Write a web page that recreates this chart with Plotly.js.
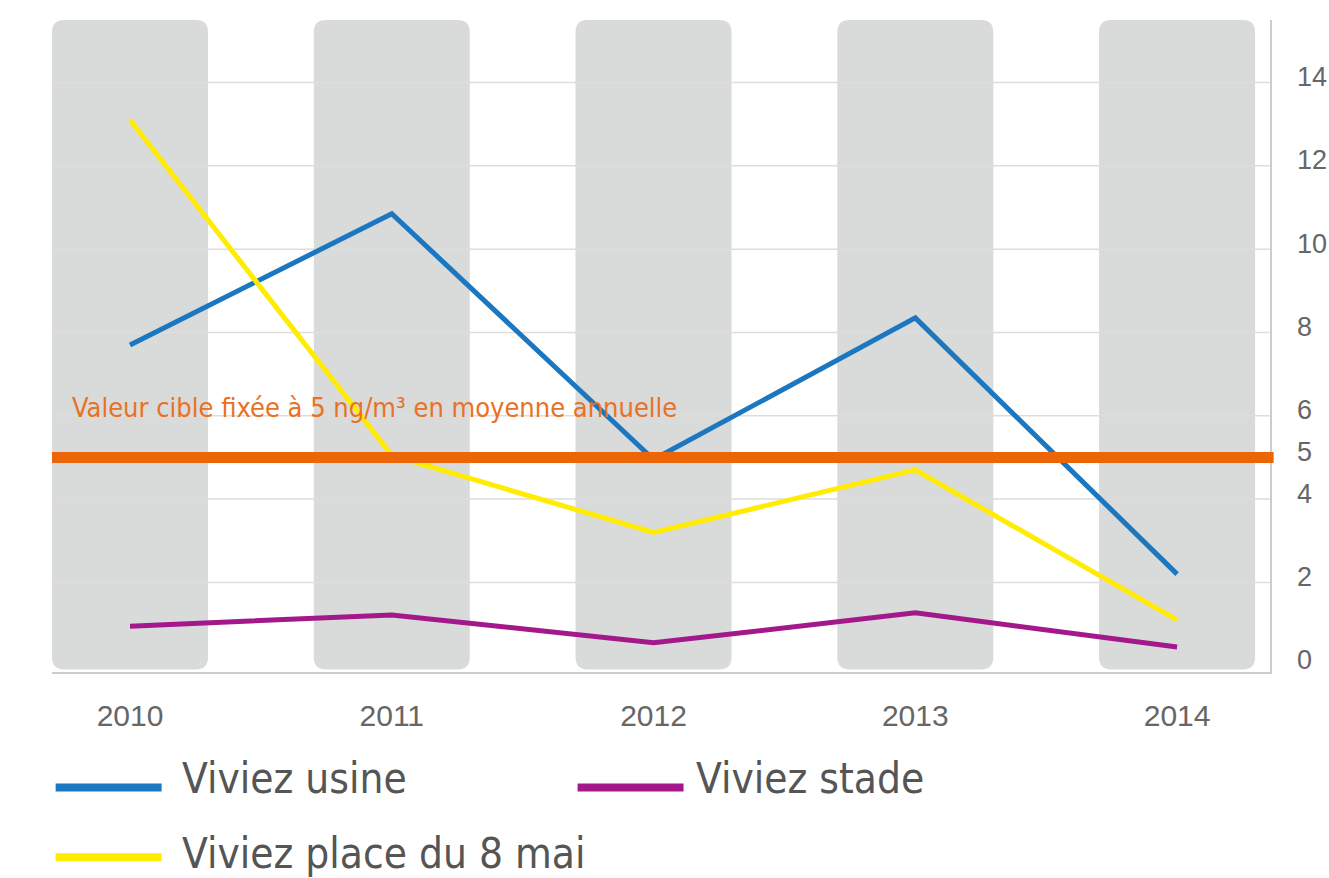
<!DOCTYPE html>
<html>
<head>
<meta charset="utf-8">
<script src="https://cdn.plot.ly/plotly-3.0.1.min.js"></script>
<style>html,body{margin:0;padding:0;background:#fff;}#chart{width:1329px;height:878px;}</style>
</head>
<body>
<div id="chart"></div>
<script>
// ---- data ----
const years = [2010, 2011, 2012, 2013, 2014];
const yearLabels = ["2010", "2011", "2012", "2013", "2014"];
const usine = [7.7, 10.85, 4.95, 8.35, 2.2];
const place8mai = [13.1, 5.05, 3.2, 4.7, 1.1];
const stade = [0.95, 1.22, 0.55, 1.27, 0.45];
const seriesNames = ["Viviez usine", "Viviez place du 8 mai", "Viviez stade"];
const seriesColors = ["#1a77c0", "#ffec00", "#a3198b"];
const targetValue = 5;
const targetLabel = "Valeur cible fixée à 5 ng/m³ en moyenne annuelle";
const yTickVals = [0, 2, 4, 5, 6, 8, 10, 12, 14];
const gridVals = [2, 4, 6, 8, 10, 12, 14];

// ---- traces ----
const seriesData = [usine, place8mai, stade];
const traces = seriesData.map((vals, i) => ({
  x: years, y: vals, type: 'scatter', mode: 'lines',
  name: seriesNames[i],
  line: {color: seriesColors[i], width: 5},
  showlegend: false, hoverinfo: 'skip'
}));
const ordered = [traces[2], traces[0], traces[1]];

// ---- shapes ----
const shapes = [];
const halfW = 0.298, rx = 0.046, ry = 0.019, yb = 0.004, yt = 1.0;
years.forEach(yr => {
  const x0 = yr - halfW, x1 = yr + halfW;
  const p = `M${x0+rx},${yb} L${x1-rx},${yb} Q${x1},${yb} ${x1},${yb+ry} L${x1},${yt-ry} Q${x1},${yt} ${x1-rx},${yt} L${x0+rx},${yt} Q${x0},${yt} ${x0},${yt-ry} L${x0},${yb+ry} Q${x0},${yb} ${x0+rx},${yb} Z`;
  shapes.push({type: 'path', path: p, xref: 'x', yref: 'paper', fillcolor: '#d9dada', line: {width: 0}, layer: 'below'});
});
gridVals.forEach(v => {
  shapes.push({type: 'line', xref: 'paper', yref: 'y', x0: 0, x1: 1, y0: v, y1: v, line: {color: '#dddddd', width: 1.5}, layer: 'below'});
});
shapes.push({type: 'line', xref: 'paper', yref: 'y', x0: 0, x1: 1.003, y0: targetValue, y1: targetValue, line: {color: '#ec6608', width: 11}, layer: 'above'});

// custom legend
const legendPos = [
  {sx: 0.003, tx: 0.105, y: -0.177, ty: -0.163},
  {sx: 0.003, tx: 0.105, y: -0.284, ty: -0.278},
  {sx: 0.4315, tx: 0.527, y: -0.177, ty: -0.163}
];
const annotations = [];
seriesNames.forEach((nm, i) => {
  const lp = legendPos[i];
  shapes.push({type: 'line', xref: 'paper', yref: 'paper', x0: lp.sx, x1: lp.sx + 0.087, y0: lp.y, y1: lp.y, line: {color: seriesColors[i], width: 8}});
  annotations.push({xref: 'paper', yref: 'paper', x: lp.tx, y: lp.ty, xanchor: 'left', yanchor: 'middle', text: nm, showarrow: false,
    font: {family: 'DejaVu Sans Condensed, Liberation Sans, Arial, sans-serif', size: 42, color: '#555555'}});
});
annotations.push({xref: 'paper', yref: 'y', x: 0.0148, y: 6.2, xanchor: 'left', yanchor: 'middle', text: targetLabel, showarrow: false,
  font: {family: 'DejaVu Sans Condensed, Liberation Sans, Arial, sans-serif', size: 27, color: '#ea7123'}});

const layout = {
  width: 1329, height: 878,
  margin: {l: 52, r: 59, t: 20, b: 206},
  paper_bgcolor: '#ffffff', plot_bgcolor: '#ffffff',
  showlegend: false,
  xaxis: {
    range: [2009.702, 2014.355], tickvals: years, ticktext: yearLabels,
    showgrid: false, zeroline: false, showline: true, linecolor: '#cccccc', linewidth: 1.5,
    ticks: 'outside', ticklen: 16, tickcolor: 'rgba(0,0,0,0)',
    tickfont: {family: 'Liberation Sans, Arial, sans-serif', size: 30, color: '#666666'}
  },
  yaxis: {
    side: 'right', range: [-0.15, 15.5], tickvals: yTickVals,
    showgrid: false, zeroline: false, showline: true, linecolor: '#cccccc', linewidth: 1.5,
    ticks: 'outside', ticklen: 20, tickcolor: 'rgba(0,0,0,0)',
    ticklabelshift: -6,
    tickfont: {family: 'Liberation Sans, Arial, sans-serif', size: 27, color: '#666666'}
  },
  shapes: shapes,
  annotations: annotations
};

Plotly.newPlot('chart', ordered, layout, {staticPlot: true, displayModeBar: false});
</script>
</body>
</html>
